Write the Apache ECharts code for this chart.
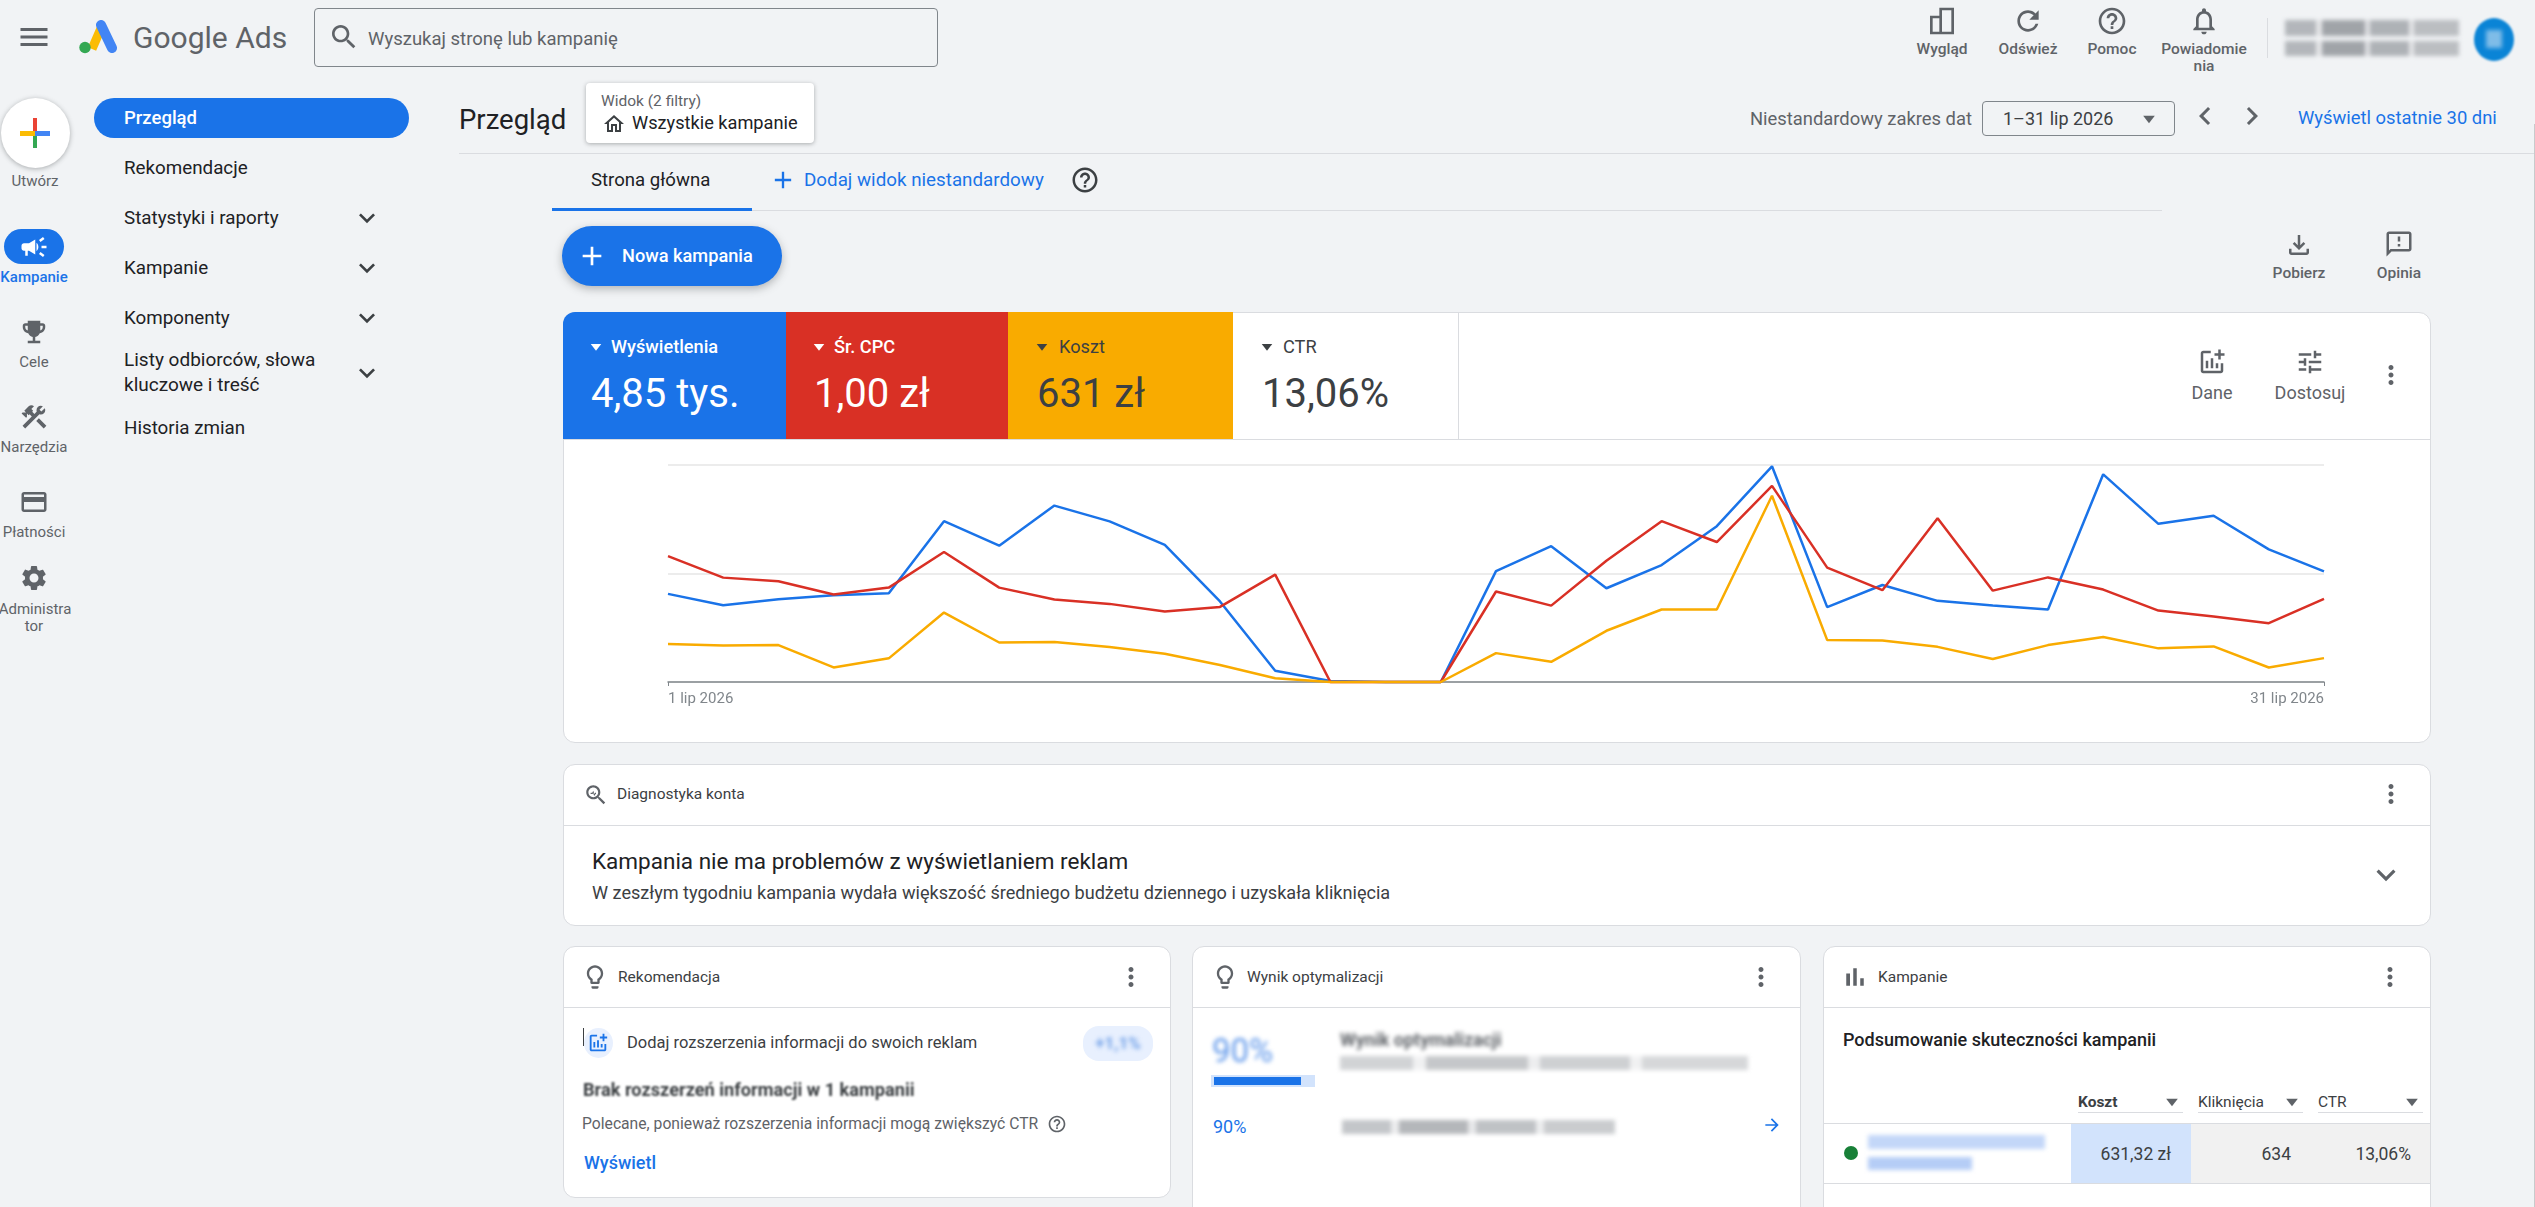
<!DOCTYPE html>
<html lang="pl">
<head>
<meta charset="utf-8">
<title>Google Ads - Przegląd</title>
<script src="https://cdn.jsdelivr.net/npm/echarts@6/dist/echarts.min.js"></script>
<style>
html, body { margin: 0; padding: 0; width: 2535px; height: 1207px; overflow: hidden; background: #f1f3f5; font-family: Roboto, sans-serif; color: #202124; }
#page { position: relative; width: 2535px; height: 1207px; overflow: hidden; }
#page > * { position: absolute; }
.t { white-space: nowrap; transform: translateY(-50%); line-height: 1.2; }
.c { transform: translate(-50%, -50%); }
.r { transform: translate(-100%, -50%); }
.smudge { filter: blur(2.2px); background: linear-gradient(90deg, #a4a8ad 0 18%, #e3e4e6 18% 21%, #8d9196 21% 46%, #dcdde0 46% 49%, #9ea2a7 49% 71%, #e3e4e6 71% 74%, #aeb1b5 74% 100%); opacity: .8; }
#chart { left: 563px; top: 440px; width: 1867px; height: 302px; }
</style>
</head>
<body>
<div id="page"></div>
<script>
// dane, os 0-100 to wysokosc wykresu
var days = ['1 lip 2026', '2 lip 2026', '3 lip 2026', '4 lip 2026', '5 lip 2026', '6 lip 2026', '7 lip 2026', '8 lip 2026',
    '9 lip 2026', '10 lip 2026', '11 lip 2026', '12 lip 2026', '13 lip 2026', '14 lip 2026', '15 lip 2026', '16 lip 2026',
    '17 lip 2026', '18 lip 2026', '19 lip 2026', '20 lip 2026', '21 lip 2026', '22 lip 2026', '23 lip 2026', '24 lip 2026',
    '25 lip 2026', '26 lip 2026', '27 lip 2026', '28 lip 2026', '29 lip 2026', '30 lip 2026', '31 lip 2026'];
var impressions = [40.6, 35.4, 38.1, 40.0, 40.9, 74.1, 62.8, 81.3, 74.0, 63.2, 37.1, 5.2, 0.5, 0, 0, 51.1,
    62.6, 43.2, 53.9, 71.8, 99.4, 34.5, 44.7, 37.4, 35.2, 33.4, 95.7, 72.9, 76.6, 61.1, 51.0];
var avgCpc = [58.0, 48.1, 46.4, 40.3, 43.5, 59.9, 43.5, 38.0, 36.0, 32.5, 34.6, 49.5, 0, 0, 0, 41.7,
    35.2, 55.9, 74.1, 64.5, 90.4, 52.7, 42.3, 75.5, 42.1, 48.2, 42.6, 32.9, 30.2, 27.1, 38.3];
var cost = [17.5, 16.8, 17.0, 6.7, 10.9, 32.0, 18.2, 18.4, 16.1, 13.0, 7.8, 1.7, 0, 0, 0, 13.3,
    9.3, 23.6, 33.4, 33.4, 85.8, 19.3, 19.1, 16.2, 10.6, 17.0, 20.7, 15.5, 16.4, 6.7, 11.0];

var BLUE = '#1a73e8', RED = '#d93025', YELLOW = '#f9ab00', GREY = '#5f6368', DARK = '#202124', LINE = '#dadce0';
var page = document.getElementById('page');

var ICON = {
    menu: 'M3 18h18v-2H3v2zm0-5h18v-2H3v2zm0-7v2h18V6H3z',
    search: 'M15.5 14h-.79l-.28-.27C15.41 12.59 16 11.11 16 9.5 16 5.91 13.09 3 9.5 3S3 5.91 3 9.5 5.91 16 9.5 16c1.61 0 3.09-.59 4.23-1.57l.27.28v.79l5 4.99L20.49 19l-4.99-5zm-6 0C7.01 14 5 11.99 5 9.5S7.01 5 9.5 5 14 7.01 14 9.5 11.99 14 9.5 14z',
    refresh: 'M17.65 6.35C16.2 4.9 14.21 4 12 4c-4.42 0-7.99 3.58-7.99 8s3.57 8 7.99 8c3.73 0 6.84-2.55 7.73-6h-2.08c-.82 2.33-3.04 4-5.65 4-3.31 0-6-2.69-6-6s2.69-6 6-6c1.66 0 3.14.69 4.22 1.78L13 11h7V4l-2.35 2.35z',
    help: 'M11 18h2v-2h-2v2zm1-16C6.48 2 2 6.48 2 12s4.48 10 10 10 10-4.48 10-10S17.52 2 12 2zm0 18c-4.41 0-8-3.59-8-8s3.59-8 8-8 8 3.59 8 8-3.59 8-8 8zm0-14c-2.21 0-4 1.79-4 4h2c0-1.1.9-2 2-2s2 .9 2 2c0 2-3 1.75-3 5h2c0-2.25 3-2.5 3-5 0-2.21-1.79-4-4-4z',
    bell: 'M12 22c1.1 0 2-.9 2-2h-4c0 1.1.9 2 2 2zm6-6v-5c0-3.07-1.63-5.64-4.5-6.32V4c0-.83-.67-1.5-1.5-1.5s-1.5.67-1.5 1.5v.68C7.64 5.36 6 7.92 6 11v5l-2 2v1h16v-1l-2-2zm-2 1H8v-6c0-2.48 1.51-4.5 4-4.5s4 2.02 4 4.5v6z',
    layout: 'M3 8h7V2h11v20H3V8zm2 2v10h5V10H5zm7-6v16h7V4h-7z',
    home: 'M12 5.69l5 4.5V18h-2v-6H9v6H7v-7.81l5-4.5M12 3L2 12h3v8h6v-6h2v6h6v-8h3L12 3z',
    down: 'M16.59 8.59L12 13.17 7.41 8.59 6 10l6 6 6-6z',
    left: 'M15.41 7.41L14 6l-6 6 6 6 1.41-1.41L10.83 12z',
    right: 'M10 6L8.59 7.41 13.17 12l-4.58 4.59L10 18l6-6z',
    more: 'M12 8c1.1 0 2-.9 2-2s-.9-2-2-2-2 .9-2 2 .9 2 2 2zm0 2c-1.1 0-2 .9-2 2s.9 2 2 2 2-.9 2-2-.9-2-2-2zm0 6c-1.1 0-2 .9-2 2s.9 2 2 2 2-.9 2-2-.9-2-2-2z',
    add: 'M19 13h-6v6h-2v-6H5v-2h6V5h2v6h6v2z',
    download: 'M18 15v3H6v-3H4v3c0 1.1.9 2 2 2h12c1.1 0 2-.9 2-2v-3h-2zm-1-4l-1.41-1.41L13 12.17V4h-2v8.17L8.41 9.59 7 11l5 5 5-5z',
    feedback: 'M20 2H4c-1.1 0-2 .9-2 2v18l4-4h14c1.1 0 2-.9 2-2V4c0-1.1-.9-2-2-2zm0 14H5.17L4 17.17V4h16v12zM11 12h2v2h-2zm0-6h2v4h-2z',
    tune: 'M3 17v2h6v-2H3zM3 5v2h10V5H3zm10 16v-2h8v-2h-8v-2h-2v6h2zM7 9v2H3v2h4v2h2V9H7zm14 4v-2H11v2h10zm-6-4h2V7h4V5h-4V3h-2v6z',
    addChart: 'M22 5v2h-3v3h-2V7h-3V5h3V2h2v3h3zm-3 14H5V5h6V3H5c-1.1 0-2 .9-2 2v14c0 1.1.9 2 2 2h14c1.1 0 2-.9 2-2v-6h-2v6zm-4-6v4h2v-4h-2zm-4 4h2V9h-2v8zm-2 0v-6H7v6h2z',
    bars: 'M5 9.2h3V19H5V9.2zM10.6 5h2.8v14h-2.8V5zm5.6 8H19v6h-2.8v-6z',
    bulb: 'M9 21c0 .55.45 1 1 1h4c.55 0 1-.45 1-1v-1H9v1zm3-19C8.14 2 5 5.14 5 9c0 2.38 1.19 4.47 3 5.74V17c0 .55.45 1 1 1h6c.55 0 1-.45 1-1v-2.26c1.81-1.27 3-3.36 3-5.74 0-3.86-3.14-7-7-7zm2.85 11.1l-.85.6V16h-4v-2.3l-.85-.6C7.8 12.16 7 10.63 7 9c0-2.76 2.24-5 5-5s5 2.24 5 5c0 1.63-.8 3.16-2.15 4.1z',
    card: 'M20 4H4c-1.11 0-1.99.89-1.99 2L2 18c0 1.11.89 2 2 2h16c1.11 0 2-.89 2-2V6c0-1.11-.89-2-2-2zm0 14H4v-6h16v6zm0-10H4V6h16v2z',
    gear: 'M19.14 12.94c.04-.3.06-.61.06-.94 0-.32-.02-.64-.07-.94l2.03-1.58c.18-.14.23-.41.12-.61l-1.92-3.32c-.12-.22-.37-.29-.59-.22l-2.39.96c-.5-.38-1.03-.7-1.62-.94l-.36-2.54c-.04-.24-.24-.41-.48-.41h-3.84c-.24 0-.43.17-.47.41l-.36 2.54c-.59.24-1.13.57-1.62.94l-2.39-.96c-.22-.08-.47 0-.59.22L2.74 8.87c-.12.21-.08.47.12.61l2.03 1.58c-.05.3-.09.63-.09.94s.02.64.07.94l-2.03 1.58c-.18.14-.23.41-.12.61l1.92 3.32c.12.22.37.29.59.22l2.39-.96c.5.38 1.03.7 1.62.94l.36 2.54c.05.24.24.41.48.41h3.84c.24 0 .44-.17.47-.41l.36-2.54c.59-.24 1.13-.56 1.62-.94l2.39.96c.22.08.47 0 .59-.22l1.92-3.32c.12-.22.07-.47-.12-.61l-2.01-1.58zM12 15.6c-1.98 0-3.6-1.62-3.6-3.6s1.62-3.6 3.6-3.6 3.6 1.62 3.6 3.6-1.62 3.6-3.6 3.6z',
    campaign: 'M18 11v2h4v-2h-4zm-2 6.61c.96.71 2.21 1.65 3.2 2.39.4-.53.8-1.07 1.2-1.6-.99-.74-2.24-1.68-3.2-2.4-.4.54-.8 1.08-1.2 1.61zM20.4 5.6c-.4-.53-.8-1.07-1.2-1.6-.99.74-2.24 1.68-3.2 2.4.4.53.8 1.07 1.2 1.6.96-.72 2.21-1.65 3.2-2.4zM4 9c-1.1 0-2 .9-2 2v2c0 1.1.9 2 2 2h1v4h2v-4h1l5 3V6L8 9H4zm11.5 3c0-1.33-.58-2.53-1.5-3.35v6.69c.92-.81 1.5-2.01 1.5-3.34z',
    trophy: 'M19 5h-2V3H7v2H5c-1.1 0-2 .9-2 2v1c0 2.55 1.92 4.63 4.39 4.94.63 1.5 1.98 2.63 3.61 2.96V19H7v2h10v-2h-4v-3.1c1.63-.33 2.98-1.46 3.61-2.96C19.08 12.63 21 10.55 21 8V7c0-1.1-.9-2-2-2zM5 8V7h2v3.82C5.84 10.4 5 9.3 5 8zm14 0c0 1.3-.84 2.4-2 2.82V7h2v1z',
    tools: 'M13.783 15.172l2.121-2.121 5.996 5.996-2.121 2.121zM17.5 10c1.93 0 3.5-1.57 3.5-3.5 0-.58-.16-1.12-.41-1.6l-2.7 2.7-1.49-1.49 2.7-2.7c-.48-.25-1.02-.41-1.6-.41C15.57 3 14 4.57 14 6.5c0 .41.08.8.21 1.16l-1.85 1.85-1.78-1.78.71-.71-1.41-1.41L12 3.49c-1.17-1.17-3.07-1.17-4.24 0L4.22 7.03l1.41 1.41H2.81l-.71.71 3.54 3.54.71-.71V9.15l1.41 1.41.71-.71 1.78 1.78-7.41 7.41 2.12 2.12L16.34 9.79c.36.13.75.21 1.16.21z',
    arrow: 'M12 4l-1.41 1.41L16.17 11H4v2h12.17l-5.58 5.59L12 20l8-8z',
    tri: 'M5 8h14l-7 9z',
    diag: 'M15.5 14h-.79l-.28-.27C15.41 12.59 16 11.11 16 9.5 16 5.91 13.09 3 9.5 3S3 5.91 3 9.5 5.91 16 9.5 16c1.61 0 3.09-.59 4.23-1.57l.27.28v.79l5 4.99L20.49 19l-4.99-5zm-6 0C7.01 14 5 11.99 5 9.5S7.01 5 9.5 5 14 7.01 14 9.5 11.99 14 9.5 14zM7 10h1.5l1-2 1 3 .7-1H12v1h-.3l-1.4 2-1-3-.3 1H7z'
};

function add(html) {
    var d = document.createElement('div');
    d.innerHTML = html;
    var el = d.firstChild;
    page.appendChild(el);
    return el;
}
// tekst: align '' od lewej, 'c' srodek, 'r' prawa krawedz
function text(x, y, str, size, color, weight, align) {
    var el = add('<div class="t ' + (align || '') + '"></div>');
    el.textContent = str;
    el.style.cssText = 'left:' + x + 'px;top:' + y + 'px;font-size:' + size + 'px;color:' + (color || DARK) + ';font-weight:' + (weight || 400);
    return el;
}
function box(x, y, w, h, style) {
    var el = add('<div></div>');
    el.style.cssText = 'left:' + x + 'px;top:' + y + 'px;width:' + w + 'px;height:' + h + 'px;' + (style || '');
    return el;
}
function icon(cx, cy, size, name, color) {
    var el = add('<svg viewBox="0 0 24 24"><path fill="' + (color || GREY) + '" d="' + ICON[name] + '"/></svg>');
    el.style.cssText = 'left:' + (cx - size / 2) + 'px;top:' + (cy - size / 2) + 'px;width:' + size + 'px;height:' + size + 'px';
    return el;
}
function card(x, y, w, h) {
    return box(x, y, w, h, 'background:#fff;border:1px solid ' + LINE + ';border-radius:12px;box-sizing:border-box;');
}
function smudge(x, y, w, h, style) {
    var el = box(x, y, w, h, style || '');
    el.className = 'smudge';
    return el;
}

// gorny pasek
icon(34, 37, 36, 'menu');
add('<svg viewBox="0 0 38 34"><path d="M13 29 L23 6" stroke="#fbbc04" stroke-width="9" fill="none"/>' +
    '<path d="M22 5 L33 28" stroke="#4285f4" stroke-width="10" stroke-linecap="round" fill="none"/>' +
    '<circle cx="6" cy="27.5" r="5.7" fill="#34a853"/></svg>').style.cssText = 'left:79px;top:20px;width:38px;height:34px';
text(133, 38, 'Google Ads', 30, GREY);
box(314, 8, 624, 59, 'border:1.5px solid #80868b;border-radius:4px;box-sizing:border-box;');
icon(344, 37, 32, 'search');
text(368, 39, 'Wyszukaj stronę lub kampanię', 18.5, GREY);

[['Wygląd', 1942, 'layout'], ['Odśwież', 2028, 'refresh'], ['Pomoc', 2112, 'help'], ['Powiadomie', 2204, 'bell']].forEach(function (b) {
    icon(b[1], 21, 32, b[2]);
    text(b[1], 49, b[0], 15.5, GREY, 500, 'c');
});
text(2204, 66, 'nia', 15.5, GREY, 500, 'c');
box(2267, 18, 1, 40, 'background:' + LINE);
smudge(2285, 20, 174, 16);
smudge(2285, 41, 174, 15);
box(2474, 18, 40, 43, 'background:#0a84d6;border-radius:50%;filter:blur(1px);');
box(2486, 30, 16, 18, 'background:#7fbce8;filter:blur(2px);');

// lewa szyna
box(1, 98, 69, 70, 'background:#fff;border-radius:50%;box-shadow:0 1px 5px rgba(60,64,67,.4);');
box(33, 118, 4, 30, 'background:#ea4335');
box(33, 133, 4, 15, 'background:#34a853');
box(20, 131, 15, 5, 'background:#fbbc04');
box(35, 131, 15, 5, 'background:#4285f4');
text(35, 181, 'Utwórz', 15, GREY, 400, 'c');
box(4, 229, 60, 35, 'background:' + BLUE + ';border-radius:18px;');
icon(34, 247, 30, 'campaign', '#fff');
text(34, 277, 'Kampanie', 15, BLUE, 500, 'c');
icon(34, 332, 30, 'trophy');
text(34, 362, 'Cele', 15, GREY, 400, 'c');
icon(34, 417, 30, 'tools');
text(34, 447, 'Narzędzia', 15, GREY, 400, 'c');
icon(34, 502, 30, 'card');
text(34, 532, 'Płatności', 15, GREY, 400, 'c');
icon(34, 578, 30, 'gear');
text(35, 609, 'Administra', 15, GREY, 400, 'c');
text(34, 626, 'tor', 15, GREY, 400, 'c');

// menu
box(94, 98, 315, 40, 'background:' + BLUE + ';border-radius:20px;');
text(124, 118, 'Przegląd', 18.5, '#fff', 500);
text(124, 168, 'Rekomendacje', 18.8, DARK);
text(124, 218, 'Statystyki i raporty', 18.8, DARK);
text(124, 268, 'Kampanie', 18.8, DARK);
text(124, 318, 'Komponenty', 18.8, DARK);
text(124, 360, 'Listy odbiorców, słowa', 19, DARK);
text(124, 385, 'kluczowe i treść', 19, DARK);
text(124, 428, 'Historia zmian', 18.8, DARK);
[218, 268, 318, 373].forEach(function (y) { icon(367, y, 32, 'down', '#3c4043'); });

// naglowek
text(459, 119, 'Przegląd', 27.5, DARK);
box(586, 83, 228, 60, 'background:#fff;border-radius:4px;box-shadow:0 1px 4px rgba(60,64,67,.4);');
text(601, 101, 'Widok (2 filtry)', 15.5, GREY);
icon(614, 124, 24, 'home', '#3c4043');
text(632, 123, 'Wszystkie kampanie', 18.2, DARK);
text(1972, 119, 'Niestandardowy zakres dat', 18.4, GREY, 400, 'r');
box(1982, 101, 193, 35, 'border:1px solid #80868b;border-radius:4px;box-sizing:border-box;');
text(2003, 119, '1–31 lip 2026', 18, '#3c4043');
icon(2149, 119, 20, 'tri');
icon(2205, 116, 36, 'left');
icon(2252, 116, 36, 'right');
text(2298, 118, 'Wyświetl ostatnie 30 dni', 18.4, BLUE, 400);
box(459, 153, 2076, 1, 'background:' + LINE);
box(2534, 124, 1, 1083, 'background:#c8cacc');

// zakladki
text(591, 180, 'Strona główna', 18.6, DARK, 400);
box(552, 210, 1610, 1, 'background:' + LINE);
box(552, 208, 200, 3, 'background:' + BLUE);
icon(783, 180, 28, 'add', BLUE);
text(804, 180, 'Dodaj widok niestandardowy', 18.8, BLUE, 400);
icon(1085, 180, 30, 'help', '#3c4043');
box(562, 226, 220, 60, 'background:' + BLUE + ';border-radius:30px;box-shadow:0 3px 8px rgba(60,64,67,.35);');
icon(592, 256, 32, 'add', '#fff');
text(622, 256, 'Nowa kampania', 18.2, '#fff', 500);
icon(2299, 245, 30, 'download');
text(2299, 273, 'Pobierz', 15.5, GREY, 500, 'c');
icon(2399, 244, 30, 'feedback');
text(2399, 273, 'Opinia', 15.5, GREY, 500, 'c');

// glowna karta
card(563, 312, 1868, 431);
box(563, 312, 223, 127, 'background:' + BLUE + ';border-top-left-radius:12px;');
box(786, 312, 222, 127, 'background:' + RED);
box(1008, 312, 225, 127, 'background:' + YELLOW);
box(1458, 313, 1, 126, 'background:' + LINE);
box(564, 439, 1866, 1, 'background:' + LINE);
[[596, 611, 'Wyświetlenia', '4,85 tys.', '#fff'], [819, 834, 'Śr. CPC', '1,00 zł', '#fff'],
    [1042, 1059, 'Koszt', '631 zł', DARK], [1267, 1283, 'CTR', '13,06%', DARK]].forEach(function (m) {
    icon(m[0], 347, 18, 'tri', m[4] === '#fff' ? '#fff' : '#3c4043');
    text(m[1], 347, m[2], 18.2, m[4] === '#fff' ? '#fff' : '#3c4043', m[4] === '#fff' ? 500 : 400);
    text(m[0] - 5, 394, m[3], 40, m[4] === '#fff' ? '#fff' : '#3c4043');
});
icon(2212, 362, 30, 'addChart');
text(2212, 393, 'Dane', 18, GREY, 400, 'c');
icon(2310, 362, 30, 'tune');
text(2310, 393, 'Dostosuj', 18, GREY, 400, 'c');
icon(2391, 375, 30, 'more');

var chartEl = add('<div id="chart"></div>');

// diagnostyka
card(563, 764, 1868, 162);
box(564, 825, 1866, 1, 'background:' + LINE);
icon(596, 795, 26, 'diag');
text(617, 794, 'Diagnostyka konta', 15.5, '#3c4043');
icon(2391, 794, 30, 'more');
text(592, 861, 'Kampania nie ma problemów z wyświetlaniem reklam', 22.5, DARK, 400);
text(592, 893, 'W zeszłym tygodniu kampania wydała większość średniego budżetu dziennego i uzyskała kliknięcia', 18.1, '#3c4043');
icon(2386, 875, 38, 'down', GREY);

// dolne karty
card(563, 946, 608, 252);
box(564, 1007, 606, 1, 'background:' + LINE);
icon(595, 977, 28, 'bulb');
text(618, 977, 'Rekomendacja', 15.5, '#3c4043');
icon(1131, 977, 30, 'more');
box(583, 1028, 1, 18, 'background:#3c4043');
box(584, 1028, 29, 30, 'background:#e8f0fe;border-radius:50%;');
icon(598, 1043, 22, 'addChart', BLUE);
text(627, 1043, 'Dodaj rozszerzenia informacji do swoich reklam', 16.5, '#3c4043');
box(1083, 1026, 70, 35, 'background:#e8f0fe;border-radius:16px;');
text(1118, 1043, '+1,1%', 17, '#6e9fe8', 700, 'c').style.filter = 'blur(2px)';
text(583, 1090, 'Brak rozszerzeń informacji w 1 kampanii', 18.2, '#3c4043', 700).style.filter = 'blur(1px)';
text(582, 1124, 'Polecane, ponieważ rozszerzenia informacji mogą zwiększyć CTR', 15.7, GREY);
icon(1057, 1124, 20, 'help');
text(584, 1163, 'Wyświetl', 18, BLUE, 500);

card(1192, 946, 609, 280);
box(1193, 1007, 607, 1, 'background:' + LINE);
icon(1225, 977, 28, 'bulb');
text(1247, 977, 'Wynik optymalizacji', 15.5, '#3c4043');
icon(1761, 977, 30, 'more');
text(1212, 1051, '90%', 33, '#5f97ea', 400).style.filter = 'blur(2.2px)';
box(1211, 1075, 104, 12, 'background:#d2e3fc;filter:blur(.6px);');
box(1214, 1077, 87, 8, 'background:' + BLUE);
text(1213, 1127, '90%', 18, BLUE);
text(1340, 1040, 'Wynik optymalizacji', 18, '#5f6368', 700).style.filter = 'blur(2.2px)';
smudge(1340, 1056, 408, 14, 'opacity:.5');
smudge(1342, 1120, 273, 14, 'opacity:.65');
icon(1772, 1125, 20, 'arrow', BLUE);

card(1823, 946, 608, 280);
box(1824, 1007, 606, 1, 'background:' + LINE);
icon(1855, 977, 30, 'bars');
text(1878, 977, 'Kampanie', 15.5, '#3c4043');
icon(2390, 977, 30, 'more');
text(1843, 1040, 'Podsumowanie skuteczności kampanii', 18, DARK, 500);
[[2078, 'Koszt', 700], [2198, 'Kliknięcia', 400], [2318, 'CTR', 400]].forEach(function (h) {
    text(h[0], 1102, h[1], 15.5, '#3c4043', h[2]);
    icon(h[0] + 94, 1102, 20, 'tri');
    box(h[0], 1112, 105, 1, 'background:' + LINE);
});
box(1824, 1123, 606, 1, 'background:' + LINE);
box(2071, 1124, 120, 59, 'background:#d2e3fc');
box(2191, 1124, 239, 59, 'background:#f1f1f1');
box(1824, 1183, 606, 1, 'background:' + LINE);
box(1844, 1146, 14, 14, 'background:#188038;border-radius:50%;');
smudge(1868, 1135, 177, 14, 'background:#c3d7f8;opacity:1');
smudge(1868, 1157, 104, 13, 'background:#b5cdf6;opacity:1');
text(2171, 1154, '631,32 zł', 17.5, '#3c4043', 400, 'r');
text(2291, 1154, '634', 17.5, '#3c4043', 400, 'r');
text(2411, 1154, '13,06%', 17.5, '#3c4043', 400, 'r');

// wykres
var myChart = echarts.init(chartEl);
function firstLast(i) { return i === 0 || i === days.length - 1; }
function lineSeries(name, data, color) {
    return { name: name, type: 'line', data: data, symbol: 'none', clip: false, lineStyle: { color: color, width: 2.5 }, itemStyle: { color: color } };
}
var option = {
    animation: false,
    backgroundColor: 'transparent',
    grid: { left: 105, top: 25, width: 1656, height: 217 },
    xAxis: {
        type: 'category',
        data: days,
        boundaryGap: false,
        axisLine: { lineStyle: { color: '#80868b', width: 1.5 } },
        axisTick: { alignWithLabel: true, interval: firstLast, length: 4, lineStyle: { color: '#80868b' } },
        axisLabel: {
            interval: firstLast,
            color: '#80868b',
            fontFamily: 'Roboto',
            fontSize: 15,
            margin: 10,
            alignMinLabel: 'left',
            alignMaxLabel: 'right',
            showMinLabel: true,
            showMaxLabel: true
        }
    },
    yAxis: {
        type: 'value',
        min: 0,
        max: 100,
        interval: 50,
        axisLine: { show: false },
        axisTick: { show: false },
        axisLabel: { show: false },
        splitLine: { lineStyle: { color: '#ececec', width: 2 } }
    },
    series: [
        lineSeries('Wyświetlenia', impressions, BLUE),
        lineSeries('Śr. CPC', avgCpc, RED),
        lineSeries('Koszt', cost, YELLOW)
    ]
};
myChart.setOption(option);
</script>
</body>
</html>
